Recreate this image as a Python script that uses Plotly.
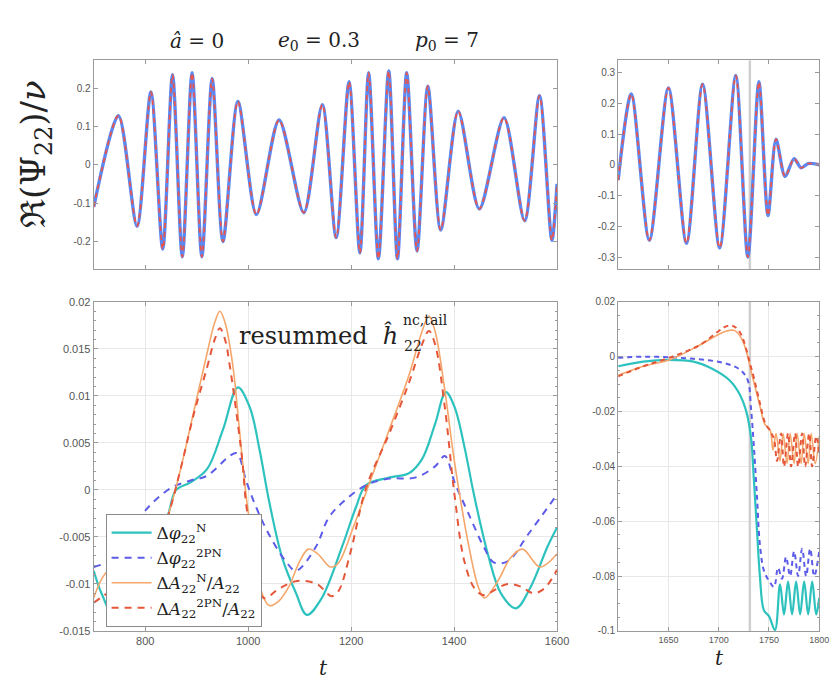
import plotly.graph_objects as go

W, H = 839, 680

# ---------------- data ----------------
# top-left waveform: t and Re(Psi22)/nu at extrema
t_wave_L = [700, 748, 784, 811, 834, 853, 872, 891, 910, 930, 951, 980, 1016, 1060, 1108,
            1144, 1171, 1196, 1217, 1234, 1253, 1273, 1290, 1308, 1328, 1349, 1374, 1408,
            1449, 1497, 1537, 1566, 1590, 1600]
psi_nr_L = [-0.11, 0.128, -0.16, 0.19, -0.22, 0.235, -0.24, 0.24, -0.24, 0.225, -0.20, 0.165,
            -0.13, 0.117, -0.125, 0.157, -0.19, 0.217, -0.23, 0.24, -0.245, 0.245, -0.245,
            0.24, -0.225, 0.205, -0.17, 0.14, -0.115, 0.123, -0.146, 0.18, -0.197, -0.05]
psi_eob_L = list(psi_nr_L)

# top-right waveform
t_wave_R = [1600, 1613, 1631, 1650, 1668, 1684, 1701, 1717, 1729, 1740, 1749, 1757, 1766,
            1775, 1782, 1789, 1800]
psi_nr_R = [-0.05, 0.23, -0.245, 0.25, -0.255, 0.262, -0.27, 0.29, -0.30, 0.27, -0.165,
            0.083, -0.038, 0.02, -0.01, 0.004, 0.0]
psi_eob_R = list(psi_nr_R)

t_merger = 1731

# bottom-left: phase / amplitude differences
t_dphiN_L = [700, 715, 745, 780, 815, 844, 860, 888, 920, 951, 980, 1003, 1022, 1041, 1066,
             1093, 1114, 1142, 1184, 1209, 1229, 1274, 1313, 1338, 1363, 1384, 1401, 1420,
             1439, 1466, 1491, 1520, 1549, 1581, 1600]
dphiN_L = [-0.0086, -0.011, -0.0139, -0.0115, -0.0065, -0.0027, 0.0, 0.0008, 0.0022, 0.0064,
           0.0109, 0.0088, 0.0043, -0.0013, -0.0072, -0.011, -0.0133, -0.0116, -0.0058,
           -0.0019, 0.0005, 0.0013, 0.0018, 0.0033, 0.007, 0.0104, 0.0088, 0.0046, -0.0006,
           -0.0069, -0.011, -0.0126, -0.0103, -0.0061, -0.004]

t_dphi2_L = [700, 730, 770, 805, 850, 888, 920, 964, 978, 997, 1016, 1041, 1073, 1093, 1131,
             1156, 1184, 1229, 1274, 1324, 1363, 1382, 1401, 1427, 1458, 1477, 1504, 1543, 1600]
dphi2_L = [-0.0082, -0.0075, -0.0045, -0.0019, 0.0002, 0.001, 0.0015, 0.0036, 0.0039, 0.0008,
           -0.0019, -0.0048, -0.0076, -0.0086, -0.0061, -0.003, -0.0013, 0.0005, 0.0012,
           0.0013, 0.0025, 0.0036, 0.0008, -0.0024, -0.0061, -0.0077, -0.0076, -0.0048, -0.0005]

t_dAN_L = [700, 730, 790, 830, 849, 870, 895, 920, 935, 945, 955, 970, 983, 999, 1027, 1041,
           1060, 1079, 1100, 1117, 1135, 1160, 1175, 1204, 1236, 1274, 1313, 1338, 1351, 1363,
           1382, 1401, 1428, 1447, 1459, 1485, 1510, 1533, 1567, 1600]
dAN_L = [-0.0115, -0.0085, -0.0082, -0.005, -0.0019, 0.0025, 0.0085, 0.0145, 0.0178, 0.019,
         0.0178, 0.0133, 0.0064, -0.0019, -0.011, -0.0123, -0.0118, -0.0103, -0.0076, -0.0063,
         -0.0068, -0.0082, -0.0078, -0.004, 0.0008, 0.0064, 0.0123, 0.0169, 0.0185, 0.0169,
         0.0106, 0.0029, -0.0058, -0.0103, -0.0115, -0.0097, -0.0072, -0.0063, -0.0082, -0.0068]

t_dA2_L = [700, 740, 790, 830, 849, 870, 895, 920, 935, 945, 955, 964, 980, 989, 997, 1030,
           1060, 1095, 1133, 1162, 1175, 1198, 1229, 1274, 1313, 1338, 1351, 1363, 1382, 1401,
           1420, 1440, 1458, 1480, 1504, 1530, 1554, 1575, 1600]
dA2_L = [-0.012, -0.0105, -0.009, -0.005, -0.0019, 0.0025, 0.0082, 0.013, 0.016, 0.0172,
         0.016, 0.0133, 0.007, 0.0029, -0.0019, -0.0115, -0.0105, -0.0097, -0.0100, -0.0113,
         -0.0108, -0.0068, 0.0002, 0.006, 0.0115, 0.0155, 0.0169, 0.0155, 0.0088, -0.0006,
         -0.0076, -0.0105, -0.0112, -0.0106, -0.0100, -0.0103, -0.011, -0.0105, -0.0085]

# bottom-right
t_dphiN_R = [1600, 1625, 1650, 1675, 1694, 1711, 1721, 1727, 1732, 1735, 1738, 1741, 1745,
             1750, 1756, 1761, 1765, 1769, 1773, 1777, 1781, 1785, 1789, 1793, 1797, 1800]
dphiN_R = [-0.0035, -0.0018, -0.0012, -0.0018, -0.0045, -0.0087, -0.0138, -0.0194, -0.029,
           -0.0448, -0.0627, -0.080, -0.0925, -0.0946, -0.0997, -0.083, -0.094, -0.082, -0.094,
           -0.082, -0.094, -0.082, -0.094, -0.082, -0.094, -0.088]

t_dphi2_R = [1600, 1625, 1650, 1675, 1704, 1721, 1729, 1732, 1735, 1738, 1741, 1745, 1750,
             1755, 1759, 1763, 1767, 1771, 1775, 1779, 1783, 1787, 1791, 1795, 1800]
dphi2_R = [-0.0004, 0.0, -0.0002, -0.0008, -0.0022, -0.0047, -0.0087, -0.0183, -0.0327,
           -0.0506, -0.0685, -0.078, -0.0817, -0.084, -0.077, -0.081, -0.073, -0.080, -0.071,
           -0.080, -0.070, -0.080, -0.070, -0.080, -0.071]

t_dAN_R = [1600, 1625, 1652, 1680, 1707, 1716, 1724, 1733, 1741, 1746, 1751, 1754, 1757, 1761,
           1764, 1768, 1771, 1775, 1778, 1782, 1785, 1789, 1792, 1796, 1800]
dAN_R = [-0.0068, -0.0035, -0.001, 0.004, 0.0093, 0.0095, 0.0057, -0.0065, -0.018, -0.0247,
         -0.0266, -0.034, -0.028, -0.038, -0.028, -0.039, -0.028, -0.039, -0.028, -0.039,
         -0.028, -0.039, -0.028, -0.039, -0.029]

t_dA2_R = [1600, 1625, 1650, 1680, 1711, 1720, 1733, 1741, 1746, 1751, 1755, 1758, 1762, 1765,
           1769, 1772, 1776, 1779, 1783, 1786, 1790, 1793, 1797, 1800]
dA2_R = [-0.0072, -0.0035, -0.0005, 0.004, 0.0114, 0.0095, -0.005, -0.017, -0.024, -0.027,
         -0.030, -0.038, -0.028, -0.040, -0.028, -0.040, -0.028, -0.040, -0.028, -0.040,
         -0.028, -0.040, -0.029, -0.035]

# ticks
xt_L = [800, 1000, 1200, 1400, 1600]
xt_R = [1650, 1700, 1750, 1800]
yt_TL = [-0.2, -0.1, 0, 0.1, 0.2]
yt_TL_txt = ["-0.2", "-0.1", "0", "0.1", "0.2"]
yt_TR = [-0.3, -0.2, -0.1, 0, 0.1, 0.2, 0.3]
yt_TR_txt = ["-0.3", "-0.2", "-0.1", "0", "0.1", "0.2", "0.3"]
yt_BL = [-0.015, -0.01, -0.005, 0, 0.005, 0.01, 0.015, 0.02]
yt_BL_txt = ["-0.015", "-0.01", "-0.005", "0", "0.005", "0.01", "0.015", "0.02"]
yt_BR = [-0.1, -0.08, -0.06, -0.04, -0.02, 0, 0.02]
yt_BR_txt = ["-0.1", "-0.08", "-0.06", "-0.04", "-0.02", "0", "0.02"]

# ---------------- style ----------------
C_NR = "#5b88f2"
C_EOB = "#e8554e"
C_CYAN = "#2ec2bf"
C_BLUE = "#5c5ce8"
C_ORANGE = "#f5a66a"
C_RED = "#e5573a"
FRAME = "#9a9a9a"
TICKC = "#555555"
SERIF = "DejaVu Serif, Liberation Serif, serif"
SANS = "Liberation Sans, Arial, sans-serif"

fig = go.Figure()

# merger line (behind curves)
for xa, ya, yr in (("x2", "y2", (-0.34, 0.34)), ("x4", "y4", (-0.1, 0.02))):
    fig.add_trace(go.Scatter(x=[t_merger, t_merger], y=list(yr), xaxis=xa, yaxis=ya,
                             mode="lines", showlegend=False, hoverinfo="skip",
                             line=dict(color="#cfcfcf", width=2.5)))


def add(x, y, xa, ya, color, width, dash=None, name=None, legend=False, smooth=1.0):
    fig.add_trace(go.Scatter(
        x=x, y=y, xaxis=xa, yaxis=ya, mode="lines", name=name, showlegend=legend,
        line=dict(color=color, width=width, dash=dash, shape="spline", smoothing=smooth),
        hoverinfo="skip"))


add(t_wave_L, psi_nr_L, "x", "y", C_NR, 3.4, smooth=0.8)
add(t_wave_L, psi_eob_L, "x", "y", C_EOB, 1.8, dash="5px,4px", smooth=0.8)
add(t_wave_R, psi_nr_R, "x2", "y2", C_NR, 3.4, smooth=0.8)
add(t_wave_R, psi_eob_R, "x2", "y2", C_EOB, 1.8, dash="5px,4px", smooth=0.8)

add(t_dphiN_L, dphiN_L, "x3", "y3", C_CYAN, 2.2, name="Δ<i>φ</i><sub>22</sub><sup>N</sup>", legend=True)
add(t_dphi2_L, dphi2_L, "x3", "y3", C_BLUE, 2.0, dash="7px,6px", name="Δ<i>φ</i><sub>22</sub><sup>2PN</sup>", legend=True)
add(t_dAN_L, dAN_L, "x3", "y3", C_ORANGE, 1.6, name="Δ<i>A</i><sub>22</sub><sup>N</sup>/<i>A</i><sub>22</sub>", legend=True)
add(t_dA2_L, dA2_L, "x3", "y3", C_RED, 2.0, dash="7px,6px", name="Δ<i>A</i><sub>22</sub><sup>2PN</sup>/<i>A</i><sub>22</sub>", legend=True)

add(t_dphiN_R, dphiN_R, "x4", "y4", C_CYAN, 2.2)
add(t_dphi2_R, dphi2_R, "x4", "y4", C_BLUE, 2.0, dash="5px,4px")
add(t_dAN_R, dAN_R, "x4", "y4", C_ORANGE, 1.6)
add(t_dA2_R, dA2_R, "x4", "y4", C_RED, 2.0, dash="5px,4px")


def xd(a, b):
    return [a / W, b / W]


def yd(top, bottom):
    return [1 - bottom / H, 1 - top / H]


def axis(domain, rng, tickvals, ticktext=None, showlabels=True, grid=False, anchor=None,
         size=11, minor=None):
    d = dict(domain=domain, range=rng, tickmode="array", tickvals=tickvals,
             showticklabels=showlabels, showline=True, linecolor=FRAME, linewidth=1.2,
             mirror="ticks", ticks="inside", ticklen=4, tickcolor=FRAME, tickwidth=1,
             zeroline=False, showgrid=grid, gridcolor="#e8e8e8", gridwidth=1,
             tickfont=dict(family=SANS, size=size, color=TICKC), anchor=anchor)
    if ticktext is not None:
        d["ticktext"] = ticktext
    if minor is not None:
        d["minor"] = dict(ticks="inside", ticklen=2, tickcolor=FRAME, dtick=minor, showgrid=False)
    return d


XL = xd(87, 557)
XR = xd(619, 823)
YT = yd(47, 260)
YB = yd(293, 628)

fig.update_layout(
    width=W, height=H, paper_bgcolor="white", plot_bgcolor="white",
    margin=dict(l=0, r=0, t=0, b=0),
    xaxis=axis(XL, [700, 1600], xt_L, showlabels=False, anchor="y"),
    yaxis=axis(YT, [-0.273, 0.273], yt_TL, yt_TL_txt, anchor="x", size=10),
    xaxis2=axis(XR, [1600, 1800], xt_R, showlabels=False, anchor="y2"),
    yaxis2=axis(YT, [-0.34, 0.34], yt_TR, yt_TR_txt, anchor="x2", size=10),
    xaxis3=axis(XL, [700, 1600], xt_L, grid=True, anchor="y3", size=11),
    yaxis3=axis(YB, [-0.015, 0.02], yt_BL, yt_BL_txt, grid=True, anchor="x3", size=11, minor=0.001),
    xaxis4=axis(XR, [1600, 1800], xt_R, grid=True, anchor="y4", size=9),
    yaxis4=axis(YB, [-0.1, 0.02], yt_BR, yt_BR_txt, grid=True, anchor="x4", size=10, minor=0.005),
    legend=dict(x=99 / W, y=1 - 509 / H, xanchor="left", yanchor="top",
                bgcolor="white", bordercolor="#8a8a8a", borderwidth=1,
                font=dict(family=SERIF, size=17, color="#222"),
                tracegroupgap=0, itemwidth=40),
    showlegend=True,
)


def ann(text, x, y, size, xanchor="center", angle=0, family=SERIF, color="#222"):
    fig.add_annotation(text=text, x=x / W, y=1 - y / H, xref="paper", yref="paper",
                       xanchor=xanchor, yanchor="middle", showarrow=False, textangle=angle,
                       font=dict(family=family, size=size, color=color))


ann("<i>â</i> = 0", 192, 27, 20)
ann("<i>e</i><sub>0</sub> = 0.3", 316, 27, 20)
ann("<i>p</i><sub>0</sub> = 7", 445, 27, 20)
ann("ℜ(Ψ<sub>22</sub>)/<i>ν</i>", 28, 143, 34, angle=-90)
ann("<i>t</i>", 320, 666, 20)
ann("<i>t</i>", 722, 656, 20)
ann("resummed  <i>ĥ</i>", 398, 327, 24, xanchor="right")
ann("nc,tail", 399, 312, 14, xanchor="left")
ann("22", 400, 338, 14, xanchor="left")

fig.write_html("out.html")
